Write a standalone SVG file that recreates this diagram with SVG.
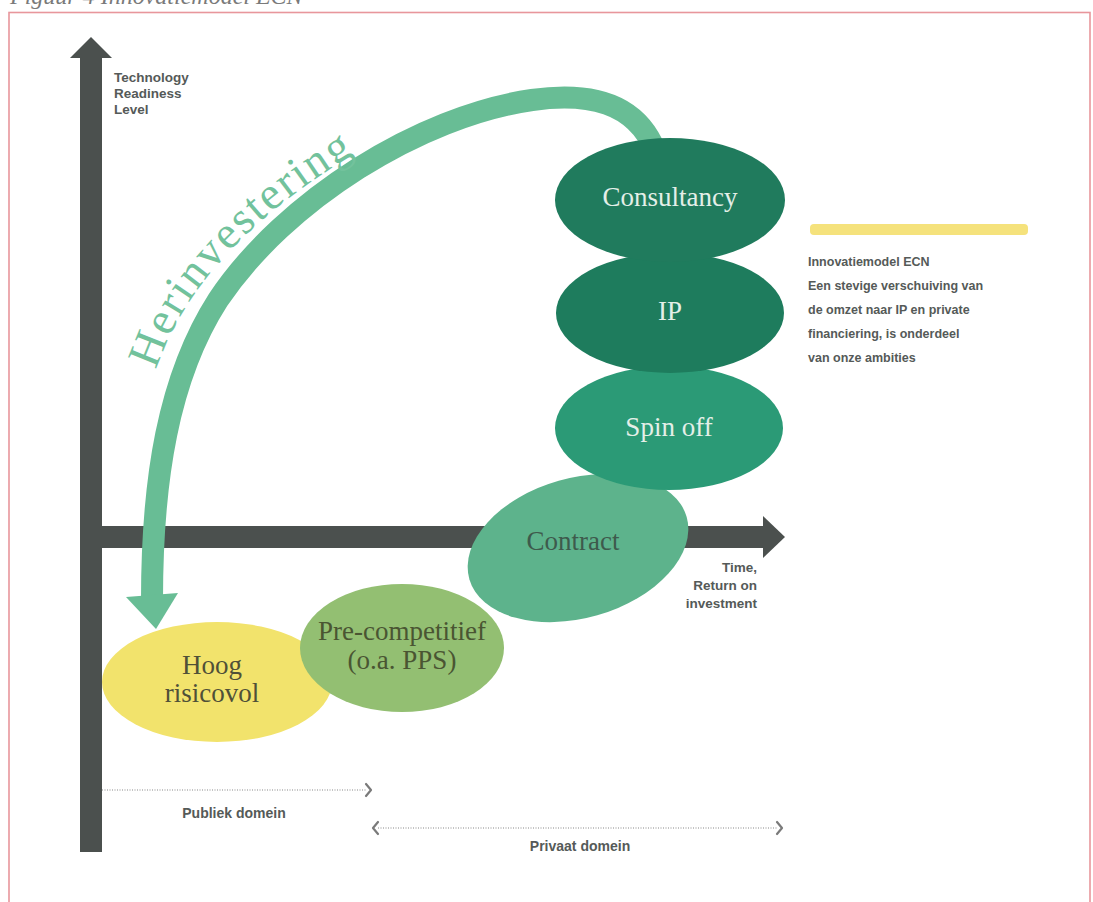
<svg xmlns="http://www.w3.org/2000/svg" width="1093" height="902" viewBox="0 0 1093 902">
<style>
.lbl{font-family:"Liberation Serif","Times New Roman",serif;font-size:27px;text-anchor:middle}
.light{fill:#e4efe8}
.sans{font-family:"Liberation Sans",Arial,sans-serif;font-weight:bold;fill:#555a58}
.ax{fill:#4b504e}
.dot{stroke:#b0b0b0;stroke-width:1.6;stroke-dasharray:1 1.5;fill:none}
.chev{stroke:#7a7a7a;stroke-width:2.2;fill:none;stroke-linecap:round;stroke-linejoin:round}
</style>
<rect x="0" y="0" width="1093" height="902" fill="#ffffff"/>
<text x="10" y="4" font-family="Liberation Serif,serif" font-style="italic" font-size="24" fill="#7a7a7a">Figuur 4 Innovatiemodel ECN</text>
<rect x="9" y="12.5" width="1081" height="900" fill="none" stroke="#e8969c" stroke-width="1.6"/>

<g id="axes">
  <rect class="ax" x="80" y="56" width="22" height="796"/>
  <polygon class="ax" points="91,37 112,58 70,58"/>
  <rect class="ax" x="102" y="526" width="663" height="22"/>
  <polygon class="ax" points="763,516 785,537 763,558"/>
  <text class="sans" font-size="13.5"><tspan x="114" y="82">Technology</tspan><tspan x="114" y="98">Readiness</tspan><tspan x="114" y="114">Level</tspan></text>
  <text class="sans" font-size="13.5" text-anchor="end"><tspan x="757" y="572">Time,</tspan><tspan x="757" y="590">Return on</tspan><tspan x="757" y="608">investment</tspan></text>
</g>

<g id="connectors">
  <path d="M 655,150 C 635,102 588,92 532,100 C 420,116 285,200 218,300 C 168,378 152,480 152,600" fill="none" stroke="#68bd95" stroke-width="22"/>
  <polygon points="126,597 178,593 156,629" fill="#68bd95"/>
  <path id="tp" d="M 156,370 C 183,290 248,212 385,136" fill="none"/>
  <text font-family="Liberation Serif,serif" font-size="46" fill="#72c29c" letter-spacing="2"><textPath href="#tp">Herinvestering</textPath></text>
</g>

<g id="node-hoog">
  <ellipse cx="217" cy="682" rx="115" ry="60" fill="#f2e36c"/>
  <text class="lbl" fill="#4f5038" font-size="26"><tspan x="212" y="674">Hoog</tspan><tspan x="212" y="702">risicovol</tspan></text>
</g>
<g id="node-pre">
  <ellipse cx="402" cy="648" rx="102" ry="64" fill="#93bf72"/>
  <text class="lbl" fill="#4a5532" font-size="25"><tspan x="402" y="640">Pre-competitief</tspan><tspan x="402" y="669">(o.a. PPS)</tspan></text>
</g>
<g id="node-contract">
  <ellipse cx="578" cy="548" rx="113" ry="70" transform="rotate(-16 578 548)" fill="#5db38c"/>
  <text class="lbl" x="573" y="550" fill="#3e5a4c">Contract</text>
</g>
<g id="node-spinoff">
  <ellipse cx="669" cy="428" rx="114" ry="62" fill="#2b9a76"/>
  <text class="lbl light" x="669" y="436">Spin off</text>
</g>
<g id="node-ip">
  <ellipse cx="670" cy="313" rx="114" ry="60" fill="#1e7c5d"/>
  <text class="lbl light" x="670" y="320">IP</text>
</g>
<g id="node-consultancy">
  <ellipse cx="670" cy="200" rx="115" ry="62" fill="#207b5d"/>
  <text class="lbl light" x="670" y="206">Consultancy</text>
</g>

<g id="legend">
  <rect x="810" y="224" width="218" height="11" rx="4" fill="#f5e27c"/>
  <text class="sans" font-size="12.5"><tspan x="808" y="266">Innovatiemodel ECN</tspan><tspan x="808" y="290">Een stevige verschuiving van</tspan><tspan x="808" y="314">de omzet naar IP en private</tspan><tspan x="808" y="338">financiering, is onderdeel</tspan><tspan x="808" y="362">van onze ambities</tspan></text>
</g>

<g id="domains">
  <line class="dot" x1="102" y1="790" x2="366" y2="790"/>
  <polyline class="chev" points="366,784 371,790 366,796"/>
  <text class="sans" font-size="14" x="234" y="818" text-anchor="middle">Publiek domein</text>
  <line class="dot" x1="378" y1="828" x2="778" y2="828"/>
  <polyline class="chev" points="378,822 373,828 378,834"/>
  <polyline class="chev" points="777,822 782,828 777,834"/>
  <text class="sans" font-size="14" x="580" y="851" text-anchor="middle">Privaat domein</text>
</g>
</svg>
